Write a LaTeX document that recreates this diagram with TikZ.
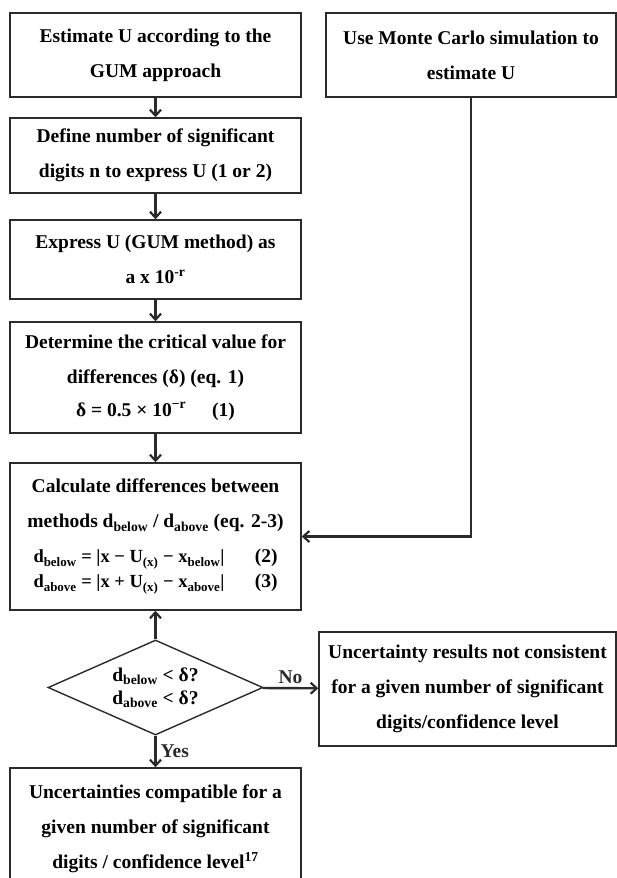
\documentclass[tikz,border=0pt]{standalone}
\usepackage{fontspec}
\setmainfont{Liberation Serif}
\usetikzlibrary{positioning}
\usetikzlibrary{arrows.meta}
\usetikzlibrary{shapes.geometric}
\definecolor{boxgray}{HTML}{2B2B2B}
\tikzset {
  % boxes of the flow chart
  main/.style = {draw=boxgray, line width=1.4pt, align=center, inner sep=0pt,
    font=\fontsize{19.5}{35}\selectfont\bfseries, minimum width=291pt},
  % the test on the differences
  decision/.style = {draw=boxgray, diamond, line width=1.4pt, align=center,
    inner sep=0pt, aspect=2.26, minimum width=215pt, minimum height=95pt,
    font=\fontsize{19.5}{23}\selectfont\bfseries},
  % connectors between the boxes
  flow/.style = {-{Straight Barb[length=6pt, width=11pt, line width=2.2pt]},
    boxgray, line width=2.4pt},
  lbl/.style = {font=\fontsize{19.5}{23}\selectfont\bfseries, inner sep=3pt},
}

\begin{document}
\begin{tikzpicture}[x=1pt, y=-1pt]
  \path[use as bounding box, clip] (0, 0) rectangle (617, 878);

  \node[main, minimum height=84pt] (gum) at (155.5, 55)
    {Estimate U according to the\\GUM approach};
  \node[main, minimum width=290pt, minimum height=84pt] (mc) at (471, 55)
    {Use Monte Carlo simulation to\\estimate U};
  \node[main, minimum height=75pt] (digits) at (155.5, 155.5)
    {Define number of significant\\digits n to express U (1 or 2)};
  \node[main, minimum height=79pt] (expr) at (155.5, 259.5)
    {Express U (GUM method) as\\a x 10\textsuperscript{-r}};
  \node[main, minimum height=111pt] (crit) at (155.5, 377.5)
    {Determine the critical value for\\differences (δ) (eq. 1)\\[-2pt]
     δ = 0.5 × 10\textsuperscript{−r}\hspace{26pt}(1)};
  \node[main, minimum height=147pt] (calc) at (155.5, 536.5)
    {Calculate differences between\\
     methods d\textsubscript{below} / d\textsubscript{above} (eq. 2-3)\\
     \makebox[198pt][l]{\fontsize{18.5}{35}\selectfont d\textsubscript{below} = |x − U\textsubscript{(x)} − x\textsubscript{below}|}\makebox[46pt][r]{(2)}\\[-10pt]
     \makebox[198pt][l]{\fontsize{18.5}{35}\selectfont d\textsubscript{above} = |x + U\textsubscript{(x)} − x\textsubscript{above}|}\makebox[46pt][r]{(3)}};
  \node[decision] (test) at (155.5, 687.5)
    {d\textsubscript{below} < δ?\\d\textsubscript{above} < δ?};
  \node[main, minimum width=297pt, minimum height=114pt] (fail) at (467.5, 689)
    {Uncertainty results not consistent\\for a given number of significant\\digits/confidence level};
  \node[main, minimum height=122pt] (pass) at (155.5, 829)
    {Uncertainties compatible for a\\given number of significant\\digits / confidence level\textsuperscript{17}};

  \draw [flow] (gum) -- (digits);
  \draw [flow] (digits) -- (expr);
  \draw [flow] (expr) -- (crit);
  \draw [flow] (crit) -- (calc);
  \draw [flow] (mc.south) |- (calc.east);
  \draw [flow] (test) -- (calc);
  \draw [flow] (test) -- node[lbl, midway, above] {No} (fail);
  \draw [flow] (test) -- node[lbl, midway, right, inner sep=4pt] {Yes} (pass);
\end{tikzpicture}
\end{document}
